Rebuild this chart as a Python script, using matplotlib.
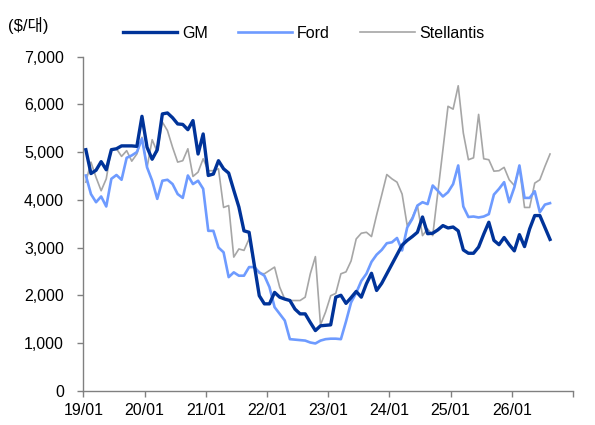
import matplotlib
matplotlib.use("Agg")
import matplotlib.pyplot as plt
import numpy as np

# monthly series, 2019/01 .. 2026/08 ($ per vehicle)
gm = [5050, 4550, 4620, 4800, 4630, 5050, 5070, 5130, 5130, 5130,
      5120, 5750, 5100, 4850, 5050, 5800, 5820, 5720, 5590, 5580,
      5470, 5660, 4960, 5380, 4510, 4540, 4820, 4650, 4560, 4200,
      3850, 3350, 3320, 2650, 1990, 1820, 1820, 2060, 1960, 1920,
      1890, 1710, 1610, 1610, 1430, 1260, 1360, 1370, 1380, 1960,
      2000, 1830, 1950, 2080, 1960, 2240, 2460, 2100, 2250, 2450,
      2650, 2850, 3050, 3150, 3230, 3320, 3640, 3290, 3300, 3370,
      3460, 3410, 3430, 3350, 2950, 2880, 2880, 3010, 3280, 3530,
      3150, 3060, 3210, 3060, 2930, 3270, 3020, 3390, 3670, 3670,
      3420, 3170]
ford = [4510, 4120, 3950, 4070, 3860, 4440, 4520, 4420, 4880, 4930,
        5000, 5280, 4680, 4400, 4020, 4400, 4420, 4330, 4120, 4040,
        4510, 4330, 4400, 4230, 3350, 3350, 3000, 2900, 2380, 2480,
        2410, 2410, 2590, 2590, 2480, 2410, 2170, 1750, 1610, 1470,
        1080, 1070, 1060, 1050, 1010, 990, 1050, 1080, 1090, 1090,
        1080, 1450, 1850, 2050, 2300, 2450, 2700, 2850, 2950, 3090,
        3110, 3200, 2940, 3420, 3600, 3880, 3950, 3910, 4300, 4190,
        4070, 4160, 4330, 4720, 3860, 3640, 3650, 3630, 3650, 3700,
        4110, 4230, 4370, 3950, 4260, 4720, 4040, 4040, 4180, 3740,
        3900, 3930]
stellantis = [4370, 4790, 4470, 4190, 4440, 5070, 5070, 4910, 5030, 4810,
              4960, 5310, 4680, 5260, 5000, 5630, 5450, 5100, 4790, 4820,
              5070, 4490, 4580, 4860, 4610, 4610, 4650, 3840, 3880, 2800,
              2970, 2940, 3180, 2620, 2460, 2450, 2520, 2590, 2170, 1920,
              1890, 1890, 1890, 1960, 2450, 2810, 1380, 1650, 1990, 2040,
              2450, 2490, 2720, 3180, 3300, 3320, 3230, 3680, 4100, 4530,
              4440, 4370, 4120, 3460, 3630, 3880, 3250, 3390, 3250, 4150,
              5050, 5960, 5900, 6390, 5400, 4840, 4880, 5790, 4860, 4840,
              4600, 4610, 4680, 4420, 4300, 4680, 3840, 3840, 4350, 4420,
              4700, 4960]
year_labels = ["19/01", "20/01", "21/01", "22/01", "23/01", "24/01", "25/01", "26/01"]

FONT = ["Liberation Sans Narrow", "Liberation Sans", "Noto Sans CJK KR"]
plt.rcParams["font.family"] = FONT

fig = plt.figure(figsize=(5.95, 4.25), dpi=100, facecolor="white")
ax = fig.add_axes([0.140, 0.0807, 0.823, 0.786])

x = np.arange(len(gm)) + 0.5
ax.plot(x, stellantis, color="#A6A6A6", lw=1.2, label="Stellantis", zorder=2)
ax.plot(x, ford, color="#6E9BFF", lw=1.9, label="Ford", zorder=3)
ax.plot(x, gm, color="#003399", lw=2.4, label="GM", zorder=4)

ax.set_xlim(0, 96)
ax.set_ylim(0, 7000)
ax.set_xticks(np.arange(0, 97, 12))
ax.set_xticklabels(year_labels + [""])
ax.set_yticks(np.arange(0, 7001, 1000))
ax.set_yticklabels([f"{v:,}" for v in range(0, 7001, 1000)])

for s in ["top", "right"]:
    ax.spines[s].set_visible(False)
for s in ["left", "bottom"]:
    ax.spines[s].set_color("#808080")
    ax.spines[s].set_linewidth(1.0)
ax.tick_params(axis="both", direction="out", length=4, width=1.0, color="#808080",
               labelsize=11.5, labelcolor="black")
ax.tick_params(axis="y", pad=10)
ax.tick_params(axis="x", pad=5)

h, l = ax.get_legend_handles_labels()
order = [2, 1, 0]
ax.legend([h[i] for i in order], [l[i] for i in order], loc="center",
          bbox_to_anchor=(0.45, 1.07), ncol=3, frameon=False, fontsize=11.5,
          handlelength=3.4, handletextpad=0.3, columnspacing=1.9)

fig.text(0.013, 0.941, "($/대)", fontsize=12, va="center", ha="left", family=FONT)

fig.savefig("out.png", dpi=100, facecolor="white")
